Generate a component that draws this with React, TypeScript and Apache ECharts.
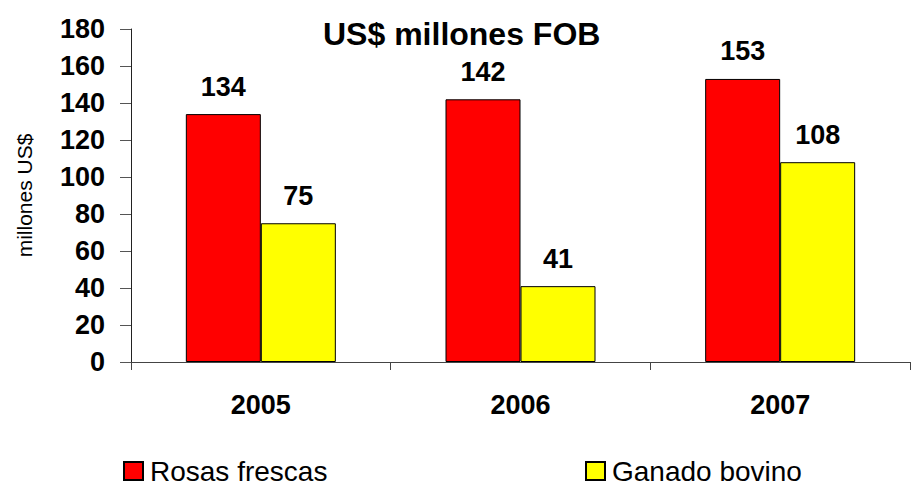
import React, { useEffect, useRef } from "react";
import * as echarts from "echarts";

const categories = ["2005", "2006", "2007"];
const rosasFrescas = [134, 142, 153];
const ganadoBovino = [75, 41, 108];
const seriesNames = ["Rosas frescas", "Ganado bovino"];
const titleText = "US$ millones FOB";
const yAxisName = "millones US$";

const FONT = "'Liberation Sans', Arial, Helvetica, sans-serif";

export default function App() {
  const ref = useRef<HTMLDivElement>(null);
  useEffect(() => {
    if (!ref.current) return;
    const chart = echarts.init(ref.current, null, { renderer: "svg" });
    const labelStyle = {
      show: true,
      position: "top" as const,
      distance: 14,
      color: "#000",
      fontFamily: FONT,
      fontWeight: "bold" as const,
      fontSize: 27,
    };
    const legendText = {
      fontFamily: FONT,
      fontSize: 28,
      color: "#000",
      padding: [0, 0, 0, 2],
    };
    chart.setOption({
      animation: false,
      backgroundColor: "#fff",
      title: {
        text: titleText,
        left: 318,
        top: 13,
        textStyle: { fontFamily: FONT, fontWeight: "bold", fontSize: 32, color: "#000" },
      },
      legend: [
        {
          data: [seriesNames[0]],
          left: 118,
          top: 452,
          icon: "rect",
          itemWidth: 19,
          itemHeight: 18,
          textStyle: legendText,
        },
        {
          data: [seriesNames[1]],
          left: 580,
          top: 452,
          icon: "rect",
          itemWidth: 19,
          itemHeight: 18,
          textStyle: legendText,
        },
      ],
      grid: { left: 131, right: 4, top: 29, bottom: 127, containLabel: false },
      xAxis: {
        type: "category",
        data: categories,
        axisLine: { lineStyle: { color: "#444", width: 1 } },
        axisTick: { show: true, inside: false, length: 8, lineStyle: { color: "#444" } },
        axisLabel: {
          color: "#000",
          fontFamily: FONT,
          fontWeight: "bold",
          fontSize: 27,
          margin: 29,
        },
      },
      yAxis: {
        type: "value",
        min: 0,
        max: 180,
        interval: 20,
        name: yAxisName,
        nameLocation: "middle",
        nameGap: 96,
        nameRotate: 90,
        nameTextStyle: { fontFamily: FONT, fontSize: 21, color: "#000" },
        axisLine: { show: true, lineStyle: { color: "#222", width: 1 } },
        axisTick: { show: true, inside: false, length: 11, lineStyle: { color: "#555" } },
        splitLine: { show: false },
        axisLabel: {
          color: "#000",
          fontFamily: FONT,
          fontWeight: "bold",
          fontSize: 27,
          margin: 26,
        },
      },
      series: [
        {
          name: seriesNames[0],
          type: "bar",
          data: rosasFrescas,
          barWidth: 75,
          barGap: "0%",
          itemStyle: { color: "#ff0000", borderColor: "#000", borderWidth: 1 },
          label: labelStyle,
        },
        {
          name: seriesNames[1],
          type: "bar",
          data: ganadoBovino,
          barWidth: 75,
          barGap: "0%",
          itemStyle: { color: "#ffff00", borderColor: "#000", borderWidth: 1 },
          label: labelStyle,
        },
      ],
    });
    return () => chart.dispose();
  }, []);
  return (
    <div
      ref={ref}
      style={{ position: "absolute", left: 0, top: 0, width: 914, height: 489 }}
    />
  );
}
